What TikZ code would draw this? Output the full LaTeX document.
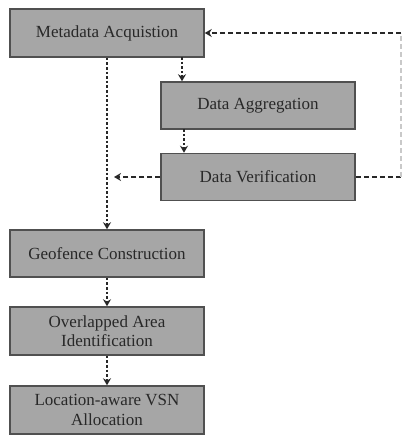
\documentclass[tikz,border=0pt]{standalone}
\usepackage{fontspec}
\setmainfont{Liberation Serif}
\usetikzlibrary{arrows.meta,calc}
\definecolor{boxfill}{RGB}{166,166,166}
\definecolor{boxline}{RGB}{80,80,80}
\definecolor{ink}{RGB}{40,40,40}
\begin{document}
\begin{tikzpicture}[x=1pt,y=-1pt,
  stage/.style={draw=boxline, line width=1.5pt, fill=boxfill, minimum width=194pt,
    minimum height=47pt, inner sep=0pt, align=center, text=ink,
    font=\fontsize{17}{19.5}\selectfont},
  vflow/.style={draw=ink, line width=1.9pt, dash pattern=on 2.6pt off 2pt,
    -{Stealth[length=7pt,width=8pt]}},
  hline/.style={draw=ink, line width=1.8pt, dash pattern=on 5pt off 3pt},
  hflow/.style={hline, -{Stealth[length=7pt,width=8pt]}},
  loopline/.style={draw=ink!25, line width=1.2pt, dash pattern=on 5pt off 3pt}]
\useasboundingbox (0,0) rectangle (401,435);

\node[stage, minimum height=48pt] (meta) at (107,33) {Metadata Acquistion};
\node[stage] (agg) at (258,105.5) {Data Aggregation};
\node[stage] (ver) at (258,177) {Data Verification};
\node[stage] (geo) at (107,253.5) {Geofence Construction};
\node[stage, minimum height=48pt] (over) at (107,331) {Overlapped Area\\Identification};
\node[stage, minimum height=48pt] (loc) at (107,410) {Location-aware VSN\\Allocation};

% feedback loop corners along the right edge
\coordinate (rtop) at (401,33);
\coordinate (rbot) at (401,177);
\coordinate (mtap) at (182,57);
\coordinate (atap) at (184,129);

% main flow
\draw[vflow] (mtap) -- (mtap |- agg.north);
\draw[vflow] (atap) -- (atap |- ver.north);
\draw[vflow] (meta.south) -- (geo.north);
\draw[vflow] (geo.south) -- (over.north);
\draw[vflow] (over.south) -- (loc.north);

% verification results
\draw[hflow, shorten >=7pt] (ver.west) -- (ver.west -| meta.south);
\draw[hline] (ver.east) -- (rbot);
\draw[loopline] (rbot) -- (rtop);
\draw[hflow] (rtop) -- (meta.east);
\end{tikzpicture}
\end{document}
